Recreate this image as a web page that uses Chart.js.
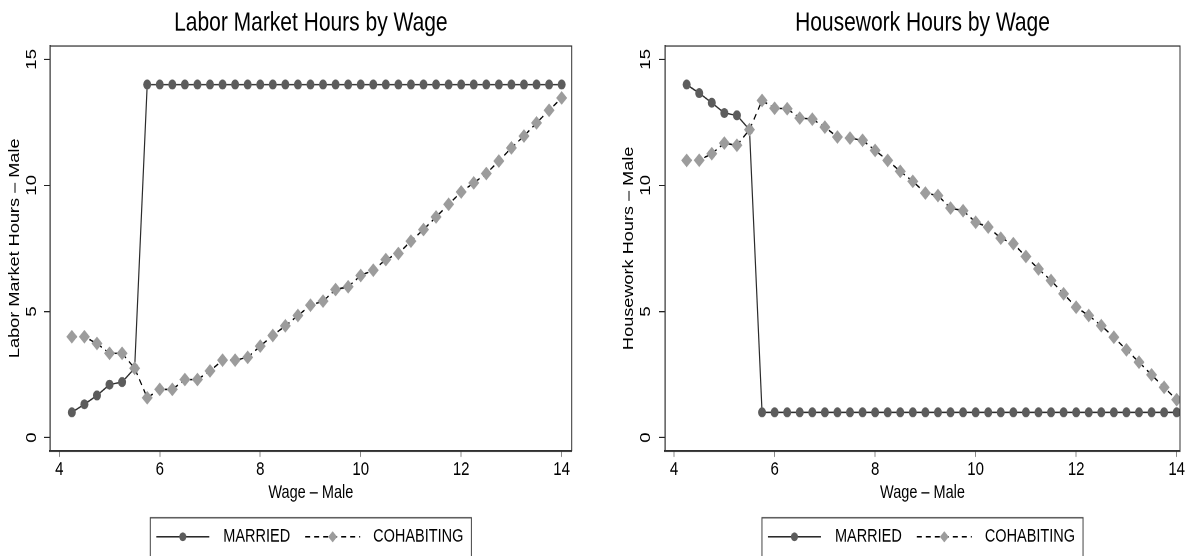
<!DOCTYPE html>
<html>
<head>
<meta charset="utf-8">
<script src="https://cdn.jsdelivr.net/npm/chart.js@4.4.1/dist/chart.umd.min.js"></script>
<style>
  html, body { margin: 0; padding: 0; background: #fff; }
  body { width: 1189px; height: 556px; overflow: hidden; display: flex; }
  canvas { display: block; }
</style>
</head>
<body>
<!-- drawn 445px high and stretched to 556px, like the reference -->
<canvas id="laborChart" width="594" height="445" style="width:594px;height:556px"></canvas>
<canvas id="houseChart" width="595" height="445" style="width:595px;height:556px"></canvas>
<script>
// Data
const wages = [4.25, 4.5, 4.75, 5, 5.25, 5.5, 5.75, 6, 6.25, 6.5, 6.75, 7, 7.25, 7.5, 7.75, 8,
  8.25, 8.5, 8.75, 9, 9.25, 9.5, 9.75, 10, 10.25, 10.5, 10.75, 11, 11.25, 11.5, 11.75, 12,
  12.25, 12.5, 12.75, 13, 13.25, 13.5, 13.75, 14];

const laborMarried = [1.0, 1.32, 1.67, 2.1, 2.2, 2.75, 14, 14, 14, 14, 14, 14, 14, 14, 14, 14,
  14, 14, 14, 14, 14, 14, 14, 14, 14, 14, 14, 14, 14, 14, 14, 14,
  14, 14, 14, 14, 14, 14, 14, 14];
const laborCohab = [4.0, 4.0, 3.73, 3.34, 3.34, 2.75, 1.58, 1.91, 1.91, 2.3, 2.3, 2.64, 3.07, 3.07, 3.18, 3.63,
  4.05, 4.43, 4.84, 5.25, 5.41, 5.87, 5.98, 6.43, 6.64, 7.06, 7.3, 7.79, 8.25, 8.75, 9.25, 9.74,
  10.1, 10.47, 10.97, 11.49, 11.96, 12.48, 12.98, 13.47];

const houseMarried = [14.0, 13.66, 13.28, 12.87, 12.78, 12.21, 1, 1, 1, 1, 1, 1, 1, 1, 1, 1,
  1, 1, 1, 1, 1, 1, 1, 1, 1, 1, 1, 1, 1, 1, 1, 1,
  1, 1, 1, 1, 1, 1, 1, 1];
const houseCohab = [10.99, 11.0, 11.26, 11.68, 11.59, 12.21, 13.37, 13.06, 13.04, 12.67, 12.63, 12.31, 11.92, 11.88, 11.79, 11.39,
  10.99, 10.56, 10.16, 9.7, 9.6, 9.1, 9.0, 8.54, 8.35, 7.91, 7.69, 7.18, 6.69, 6.23, 5.7, 5.17,
  4.84, 4.44, 3.98, 3.48, 2.99, 2.49, 1.99, 1.5];

const xTickVals = [4, 6, 8, 10, 12, 14];
const yTickVals = [0, 5, 10, 15];
const seriesNames = ['MARRIED', 'COHABITING'];

const FONT = "'Liberation Sans', Arial, Helvetica, sans-serif";
Chart.defaults.font.family = FONT;
Chart.defaults.color = '#000';

const marriedStyle = { line: '#2b2b2b', marker: '#5c5c5c' };
const cohabStyle = { line: '#000000', marker: '#9c9c9c' };

const toPoints = (ys) => wages.map((w, i) => ({ x: w, y: ys[i] }));

// Frame, rotated y tick labels and the boxed legend
const stataDecor = {
  id: 'stataDecor',
  afterDraw(chart, args, opts) {
    const { ctx, chartArea: a } = chart;
    const yScale = chart.scales.y;
    ctx.save();

    ctx.strokeStyle = '#333';
    ctx.lineWidth = 1;
    ctx.strokeRect(a.left, a.top, a.right - a.left, a.bottom - a.top);

    ctx.fillStyle = '#000';
    ctx.font = `15px ${FONT}`;
    ctx.textAlign = 'center';
    ctx.textBaseline = 'middle';
    yTickVals.forEach(v => {
      ctx.save();
      ctx.translate(opts.yLabelX, yScale.getPixelForValue(v));
      ctx.rotate(-Math.PI / 2);
      ctx.fillText(String(v), 0, 0);
      ctx.restore();
    });

    // legend
    ctx.font = `14.5px ${FONT}`;
    ctx.textAlign = 'left';
    const w1 = ctx.measureText(seriesNames[0]).width;
    const w2 = ctx.measureText(seriesNames[1]).width;
    const sym1 = 53, sym2 = 55;
    const total = 6 + sym1 + 14 + w1 + 15 + sym2 + 13 + w2 + 8;
    let x = (a.left + a.right) / 2 - total / 2;
    const top = 414.4, cy = 429.6;
    ctx.strokeStyle = '#444';
    ctx.lineWidth = 1;
    ctx.strokeRect(x, top, total, 60);
    x += 6;

    ctx.strokeStyle = marriedStyle.line;
    ctx.lineWidth = 1.2;
    ctx.beginPath(); ctx.moveTo(x, cy); ctx.lineTo(x + sym1, cy); ctx.stroke();
    ctx.fillStyle = marriedStyle.marker;
    ctx.beginPath(); ctx.arc(x + sym1 / 2, cy, 3.5, 0, Math.PI * 2); ctx.fill();
    x += sym1 + 14;
    ctx.fillStyle = '#000';
    ctx.fillText(seriesNames[0], x, cy);
    x += w1 + 15;

    ctx.strokeStyle = cohabStyle.line;
    ctx.setLineDash([5, 4]);
    ctx.beginPath(); ctx.moveTo(x, cy); ctx.lineTo(x + sym2, cy); ctx.stroke();
    ctx.setLineDash([]);
    ctx.fillStyle = cohabStyle.marker;
    const dx = x + sym2 / 2, r = 4.5;
    ctx.beginPath();
    ctx.moveTo(dx, cy - r); ctx.lineTo(dx + r, cy); ctx.lineTo(dx, cy + r); ctx.lineTo(dx - r, cy);
    ctx.closePath(); ctx.fill();
    x += sym2 + 13;
    ctx.fillStyle = '#000';
    ctx.fillText(seriesNames[1], x, cy);

    ctx.restore();
  }
};

const makeChart = (id, cfg) => {
  const ctx = document.getElementById(id).getContext('2d');
  return new Chart(ctx, {
    type: 'line',
    data: {
      datasets: [
        {
          label: seriesNames[0],
          data: toPoints(cfg.married),
          borderColor: marriedStyle.line,
          borderWidth: 1.2,
          pointStyle: 'circle',
          pointRadius: 4,
          pointBackgroundColor: marriedStyle.marker,
          pointBorderWidth: 0,
          order: 2
        },
        {
          label: seriesNames[1],
          data: toPoints(cfg.cohab),
          borderColor: cohabStyle.line,
          borderWidth: 1.2,
          borderDash: [5, 4],
          pointStyle: 'rectRot',
          pointRadius: 5.5,
          pointBackgroundColor: cohabStyle.marker,
          pointBorderWidth: 0,
          order: 1
        }
      ]
    },
    options: {
      responsive: false,
      animation: false,
      devicePixelRatio: 2,
      layout: { padding: { left: 0, right: cfg.padRight, top: 0, bottom: 0 } },
      plugins: {
        legend: { display: false },
        tooltip: { enabled: false },
        title: {
          display: true,
          text: cfg.title,
          fullSize: false,
          color: '#000',
          font: { size: 21, weight: 'normal' },
          padding: { top: 6.1, bottom: 5.5 }
        },
        stataDecor: { yLabelX: cfg.yLabelX }
      },
      scales: {
        x: {
          type: 'linear',
          min: cfg.xMin,
          max: cfg.xMax,
          afterBuildTicks: (scale) => { scale.ticks = xTickVals.map(v => ({ value: v })); },
          afterFit: (scale) => { scale.height = 84.4; },
          grid: { drawOnChartArea: false, drawTicks: true, tickLength: 5, color: '#888' },
          border: { display: true, color: '#222', width: 1.6 },
          ticks: { font: { size: 15 }, color: '#000', padding: 1.4, maxRotation: 0 },
          title: { display: true, text: 'Wage – Male', font: { size: 14.5 }, color: '#000', padding: { top: 0, bottom: 41.9 } }
        },
        y: {
          type: 'linear',
          min: -0.515,
          max: 15.53,
          afterBuildTicks: (scale) => { scale.ticks = yTickVals.map(v => ({ value: v })); },
          afterFit: (scale) => { scale.width = cfg.yAxisWidth; },
          grid: { drawOnChartArea: false, drawTicks: true, tickLength: 6, color: '#222' },
          border: { display: true, color: '#222', width: 1.2 },
          ticks: { display: false },
          title: { display: true, text: cfg.yTitle, font: { size: 14.5 }, color: '#000', padding: { top: cfg.yTitlePad, bottom: 0 } }
        }
      }
    },
    plugins: [stataDecor]
  });
};

makeChart('laborChart', {
  title: 'Labor Market Hours by Wage',
  yTitle: 'Labor Market Hours – Male',
  married: laborMarried,
  cohab: laborCohab,
  xMin: 3.815, xMax: 14.2,
  yAxisWidth: 50, yTitlePad: 6.3, yLabelX: 32, padRight: 22.3
});

makeChart('houseChart', {
  title: 'Housework Hours by Wage',
  yTitle: 'Housework Hours – Male',
  married: houseMarried,
  cohab: houseCohab,
  xMin: 3.819, xMax: 14.066,
  yAxisWidth: 71, yTitlePad: 26.3, yLabelX: 52, padRight: 9
});
</script>
</body>
</html>
